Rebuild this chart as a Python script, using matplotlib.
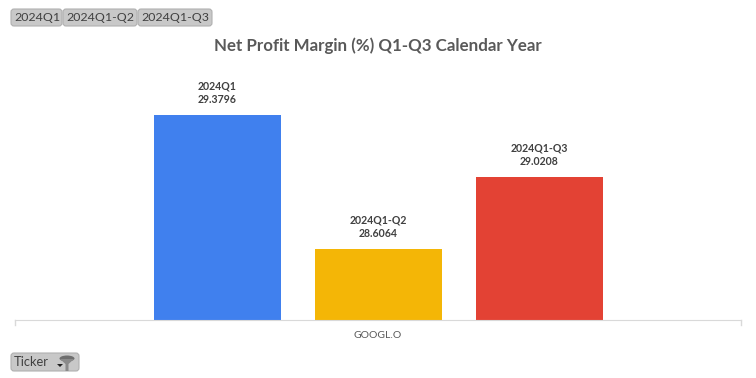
import matplotlib
matplotlib.use('Agg')
import matplotlib.pyplot as plt
from matplotlib.patches import FancyBboxPatch, Polygon, Ellipse

plt.rcParams['font.family'] = ['Lato', 'DejaVu Sans']

periods = ['2024Q1', '2024Q1-Q2', '2024Q1-Q3']
margins = [29.3796, 28.6064, 29.0208]
colors = ['#4080EE', '#F4B606', '#E34234']
ticker = 'GOOGL.O'
title = 'Net Profit Margin (%) Q1-Q3 Calendar Year'

W, H = 756, 378
fig = plt.figure(figsize=(W / 100, H / 100), dpi=100)

# axes placed in pixels to line up with the pivot chart layout
ax = fig.add_axes([15 / W, 1 - 320 / H, 726 / W, 272 / H])
xs = range(len(periods))
ax.bar(xs, margins, width=127 / 161, color=colors, bottom=0)
ax.set_xlim(1 - 363 / 161, 1 + 363 / 161)
ax.set_ylim(28.1967, 28.1967 + 272 / 173.3)

for x, p, m in zip(xs, periods, margins):
    ax.annotate(f'{p}\n{m:.4f}', (x, m), xytext=(0, 7), textcoords='offset points',
                ha='center', va='bottom', fontsize=7.6, fontweight='bold',
                color='#404040', linespacing=1.32)

for s in ['top', 'right', 'left']:
    ax.spines[s].set_visible(False)
ax.spines['bottom'].set_color('#D9D9D9')
ax.set_yticks([])
ax.set_xticks([])
ax.plot([0, 0], [0, -5 / 272], color='#D9D9D9', lw=1, transform=ax.transAxes, clip_on=False)
ax.plot([1, 1], [0, -5 / 272], color='#D9D9D9', lw=1, transform=ax.transAxes, clip_on=False)

fig.text(378 / W, 1 - 335 / H, ticker, ha='center', va='center', fontsize=7.5, color='#595959')
fig.text(378 / W, 1 - 46 / H, title, ha='center', va='center', fontsize=12.15,
         fontweight='bold', color='#595959')

# overlay covering the whole figure in pixel coords for the field buttons
ov = fig.add_axes([0, 0, 1, 1], facecolor='none')
ov.set_xlim(0, W)
ov.set_ylim(H, 0)
ov.axis('off')


def button(x0, x1, y0, y1, label, tx, size):
    ov.add_patch(FancyBboxPatch((x0 + 3, y0 + 3), x1 - x0 - 6, y1 - y0 - 6,
                                boxstyle='round,pad=3,rounding_size=3',
                                fc='#C8C8C8', ec='#B0B0B0', lw=0.8))
    ov.text(tx, (y0 + y1) / 2, label, ha='left', va='center', fontsize=size, color='#404040')


button(11, 62, 9, 26, periods[0], 14, 8.9)
button(63, 137, 9, 26, periods[1], 66, 8.9)
button(138, 212, 9, 26, periods[2], 141, 8.9)
button(11, 79, 353, 371, 'Ticker', 14, 9.3)

# funnel icon and dropdown arrow on the Ticker button
ov.add_patch(Ellipse((67, 358.5), 15, 6, fc='#6E6E6E', ec='none'))
ov.add_patch(Polygon([[60, 359], [74, 359], [68.5, 364], [68.5, 371], [65.5, 371], [65.5, 364]],
                     fc='#8A8A8A', ec='none'))
ov.add_patch(Polygon([[57, 364], [63, 364], [60, 367]], fc='#202020', ec='none'))

fig.savefig('out.png', dpi=100)
